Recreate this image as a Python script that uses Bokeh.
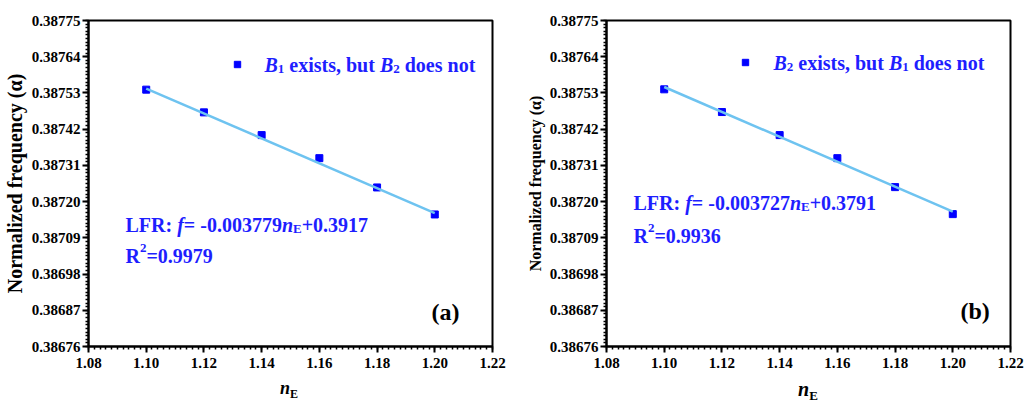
import numpy as np
from bokeh.plotting import figure
from bokeh.models import FixedTicker, PrintfTickFormatter, Label, Legend, LegendItem, Range1d, Div
from bokeh.layouts import row, column
from bokeh.embed import file_html
from bokeh.resources import INLINE

# ---- data -------------------------------------------------------------
n_e = [1.10, 1.12, 1.14, 1.16, 1.18, 1.20]
freq_b1_only = [0.387540, 0.387471, 0.387402, 0.387332, 0.387243, 0.387161]
freq_b2_only = [0.387541, 0.387472, 0.387402, 0.387332, 0.387244, 0.387162]

fit_a = {"slope": -0.003779, "intercept": 0.3917, "r2": 0.9979}
fit_b = {"slope": -0.003727, "intercept": 0.3791, "r2": 0.9936}

x_ticks = [1.08, 1.10, 1.12, 1.14, 1.16, 1.18, 1.20, 1.22]
y_ticks = [0.38676, 0.38687, 0.38698, 0.38709, 0.38720,
           0.38731, 0.38742, 0.38753, 0.38764, 0.38775]

SERIF = "Liberation Serif"
BLUE_TXT = "#1E1EFF"
BLUE_PT = "#0000FF"
FIT_COLOR = "#6EC3F0"

# Times-compatible advance widths (per 1000 em) for bold / bold italic
W_BOLD = {" ": 250, "(": 333, ")": 333, "+": 570, ",": 250, "-": 333, ".": 250,
          ":": 333, "=": 570, "B": 667, "E": 667, "F": 611, "L": 667, "R": 722,
          "a": 500, "b": 556, "c": 444, "d": 556, "e": 444, "f": 333, "i": 278,
          "n": 556, "o": 500, "s": 389, "t": 333, "u": 556, "x": 500}
W_BOLD.update({str(d): 500 for d in range(10)})

BASE_SHIFT = 7  # px the alphabetic baseline sits below a Label's anchor


def text_width(s, size):
    return sum(W_BOLD.get(ch, 500) for ch in s) / 1000.0 * size


def rich(p, x0, y0, runs, size, color):
    """Lay out a line of mixed-style text; offsets are px from the frame's bottom-left."""
    x = x0
    for txt, style, pos in runs:
        if pos == "sub":
            fs, dy = size * 0.65, -0.22 * size
        elif pos == "sup":
            fs, dy = size * 0.65, 0.40 * size
        else:
            fs, dy = size, 0.0
        lead = len(txt) - len(txt.lstrip(" "))
        shown = txt.strip(" ")
        if shown:
            p.add_layout(Label(
                x=p.x_range.start, y=p.y_range.start, x_units="data", y_units="data",
                x_offset=x + text_width(" " * lead, fs), y_offset=y0 + dy + BASE_SHIFT,
                text=shown, text_font=SERIF, text_font_size=f"{fs:.1f}px",
                text_font_style=style, text_color=color,
                text_align="left", text_baseline="alphabetic"))
        x += text_width(txt, fs)


def make_panel(freq, fit_line, fit_text, legend_runs, tag, geo):
    p = figure(frame_width=404, frame_height=326,
               min_border_left=geo["left"], min_border_right=geo["right"],
               min_border_top=geo["top"], min_border_bottom=geo["bottom"],
               x_range=Range1d(x_ticks[0], x_ticks[-1]),
               y_range=Range1d(y_ticks[0], y_ticks[-1]),
               output_backend="svg", toolbar_location=None,
               background_fill_color="white", border_fill_color="white")
    p.grid.visible = False
    p.outline_line_color = "black"
    p.outline_line_width = 2

    x_minor = list(np.round(np.arange(x_ticks[0], x_ticks[-1] + 1e-9, 0.002), 4))
    y_minor = []
    for a, b in zip(y_ticks[:-1], y_ticks[1:]):
        y_minor += list(np.linspace(a, b, 11)[:-1])
    y_minor.append(y_ticks[-1])

    xax, yax = p.xaxis[0], p.yaxis[0]
    xax.ticker = FixedTicker(ticks=x_ticks, minor_ticks=x_minor)
    yax.ticker = FixedTicker(ticks=y_ticks, minor_ticks=y_minor)
    xax.formatter = PrintfTickFormatter(format="%.2f")
    yax.formatter = PrintfTickFormatter(format="%.5f")

    for ax in (xax, yax):
        ax.axis_line_width = 2
        ax.axis_line_color = "black"
        ax.major_tick_line_width = 2
        ax.major_tick_line_color = "black"
        ax.minor_tick_line_width = 1.5
        ax.minor_tick_line_color = "black"
        ax.major_tick_out = 6
        ax.major_tick_in = 0
        ax.minor_tick_out = 3
        ax.minor_tick_in = 0
        ax.major_label_text_font = SERIF
        ax.major_label_text_font_style = "bold"
        ax.major_label_text_color = "black"
    xax.major_label_text_font_size = "15px"
    yax.major_label_text_font_size = "15px"
    xax.major_label_standoff = 5
    yax.major_label_standoff = 2

    yax.axis_label = "Normalized frequency (\u03b1)"
    yax.axis_label_text_font = SERIF
    yax.axis_label_text_font_style = "bold"
    yax.axis_label_text_color = "black"
    yax.axis_label_text_font_size = geo["ytitle"]
    yax.axis_label_standoff = 3

    pts = p.scatter(n_e, freq, marker="square", size=7,
                    fill_color=BLUE_PT, line_color=BLUE_PT)
    xs = [n_e[0], n_e[-1]]
    p.line(xs, [fit_line[0] * v + fit_line[1] for v in xs],
           line_color=FIT_COLOR, line_width=2.5)

    leg = Legend(items=[LegendItem(label=" ", renderers=[pts])],
                 location=geo["legend_at"], padding=0, margin=0, spacing=0,
                 glyph_width=16, glyph_height=16, label_standoff=0,
                 label_width=0, label_height=16, label_text_font_size="1px",
                 border_line_alpha=0, background_fill_alpha=0)
    p.add_layout(leg)

    rich(p, *geo["legend_txt"], legend_runs, 20, BLUE_TXT)

    slope, icpt, r2 = fit_text["slope"], fit_text["intercept"], fit_text["r2"]
    eq_runs = [("LFR: ", "bold", None), ("f", "bold italic", None),
               (f"= {slope:.6f}", "bold", None), ("n", "bold italic", None),
               ("E", "bold", "sub"), (f"+{icpt:.4f}", "bold", None)]
    rich(p, *geo["eq"], eq_runs, 20, BLUE_TXT)
    r2_runs = [("R", "bold", None), ("2", "bold", "sup"), (f"={r2:.4f}", "bold", None)]
    rich(p, *geo["r2"], r2_runs, 20, BLUE_TXT)

    rich(p, *geo["tag"], [(tag, "bold", None)], 24, "black")
    return p


def x_title(left_px, size, top_px, width):
    """n_E axis title as a strip of HTML under a panel."""
    sub = round(size * 0.65)
    html = (f'<div style="position:relative;width:{width}px;height:28px;">'
            f'<span style="position:absolute;left:{left_px}px;top:{top_px}px;'
            f'font-family:\'{SERIF}\';font-weight:bold;font-size:{size}px;'
            f'line-height:1;color:black;white-space:nowrap;">'
            f'<i>n</i><span style="font-size:{sub}px;position:relative;top:{size * 0.22:.1f}px;">E</span>'
            f'</span></div>')
    return Div(text=html, width=width, height=28, margin=0)


legend_a = [("B", "bold italic", None), ("1", "bold", "sub"), (" exists, but ", "bold", None),
            ("B", "bold italic", None), ("2", "bold", "sub"), (" does not", "bold", None)]
legend_b = [("B", "bold italic", None), ("2", "bold", "sub"), (" exists, but ", "bold", None),
            ("B", "bold italic", None), ("1", "bold", "sub"), (" does not", "bold", None)]

geo_a = dict(left=88, right=20, top=20, bottom=30, ytitle="20px",
             legend_at=(141, 274), legend_txt=(176, 275), eq=(37, 115), r2=(37, 84),
             tag=(343, 28))
geo_b = dict(left=94, right=14, top=19, bottom=31, ytitle="16px",
             legend_at=(131, 276), legend_txt=(167, 277), eq=(27, 137), r2=(27, 104),
             tag=(354, 29))

# the fitted line in (a) uses its printed coefficients; (b) is refit from its points
coef_b = np.polyfit(n_e, freq_b2_only, 1)
p1 = make_panel(freq_b1_only, (fit_a["slope"], fit_a["intercept"]), fit_a, legend_a, "(a)", geo_a)
p2 = make_panel(freq_b2_only, (coef_b[0], coef_b[1]), fit_b, legend_b, "(b)", geo_b)

layout = column(row(p1, p2),
                row(x_title(280, 18, 3, 512), x_title(286, 20, 3, 512)))
open("out.html", "w").write(file_html(layout, INLINE))
